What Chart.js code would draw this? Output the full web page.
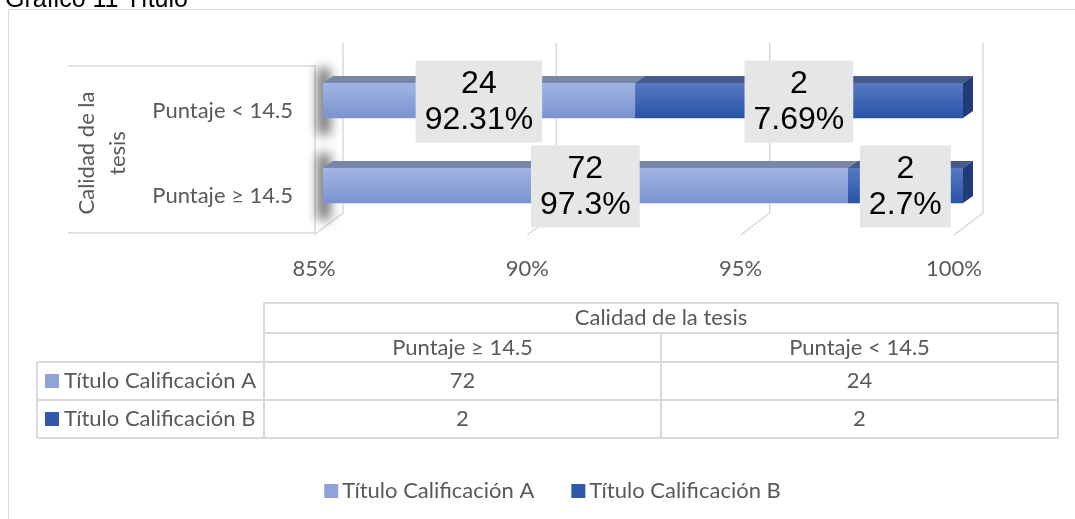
<!DOCTYPE html>
<html><head><meta charset="utf-8">
<script src="https://cdn.jsdelivr.net/npm/chart.js@4.4.1/dist/chart.umd.min.js"></script>
<style>html,body{margin:0;padding:0;background:#fff;overflow:hidden}canvas{display:block}</style>
</head><body>
<canvas id="c" width="1075" height="519"></canvas>
<script>
// ---- data ----
const categories = ['Puntaje ≥ 14.5', 'Puntaje < 14.5'];
const seriesNames = ['Título Calificación A', 'Título Calificación B'];
const countsA = [72, 24];
const countsB = [2, 2];
const xTicks = [85, 90, 95, 100];
const groupTitle = 'Calidad de la tesis';
const chartTitle = 'Gráfico 11 Título';

const totals = categories.map((_, i) => countsA[i] + countsB[i]);
const pctA = countsA.map((v, i) => v / totals[i] * 100);
const pctB = countsB.map((v, i) => v / totals[i] * 100);
const counts = [countsA, countsB];

// ---- styles ----
const FONT = 'Lato, "Open Sans", sans-serif';
const FS = 22;
const GRAY = '#595959';
const LINE = '#d9d9d9';
const DX = 10, DY = 7;
const STY = [
  {top: '#a1b4e4', bot: '#7b93cf', lid: '#7886aa', cap: '#5a6a96', sq: '#8fa3d9'},
  {top: '#5579c2', bot: '#2b54a9', lid: '#45598b', cap: '#213b78', sq: '#3158ab'}
];
const fmtPct = p => (Math.round(p * 100) / 100) + '%';

function grad(ctx, s) {
  const ch = ctx.chart, ys = ch.scales && ch.scales.y;
  if (!ys || ctx.dataIndex === undefined || !ch.chartArea) return s.bot;
  const yc = ys.getPixelForValue(ctx.dataIndex);
  const g = ch.ctx.createLinearGradient(0, yc - 17, 0, yc + 17);
  g.addColorStop(0, s.top); g.addColorStop(1, s.bot);
  return g;
}

const deco = {
  id: 'deco',
  beforeDraw(chart) {
    const c = chart.ctx;
    c.save();
    c.fillStyle = '#fff'; c.fillRect(0, 0, chart.width, chart.height);
    c.strokeStyle = LINE; c.lineWidth = 1;
    c.beginPath(); c.moveTo(8.5, 540); c.lineTo(8.5, 9.5); c.lineTo(1100, 9.5); c.stroke();
    c.fillStyle = '#000'; c.font = '25px "Liberation Sans", Arial'; c.textBaseline = 'alphabetic';
    c.fillText(chartTitle, 5, 7);
    c.restore();
  },
  beforeDatasetsDraw(chart) {
    const c = chart.ctx, xs = chart.scales.x, ys = chart.scales.y, a = chart.chartArea;
    c.save();
    c.strokeStyle = LINE; c.lineWidth = 1.5;
    xTicks.forEach(v => {
      const px = xs.getPixelForValue(v);
      c.beginPath();
      c.moveTo(px + 20, a.top - 15); c.lineTo(px + 20, a.bottom - 15); c.lineTo(px - 9, a.bottom + 7);
      c.stroke();
    });
    // category axis box
    const bx = a.left - 8;
    c.beginPath();
    c.moveTo(68, a.top + 8); c.lineTo(bx, a.top + 8); c.lineTo(bx, a.bottom + 5); c.lineTo(68, a.bottom + 5);
    c.stroke();
    // group title rotated
    c.fillStyle = GRAY; c.font = FS + 'px ' + FONT; c.textAlign = 'center'; c.textBaseline = 'middle';
    c.translate(102, (a.top + a.bottom) / 2 + 10);
    c.rotate(-Math.PI / 2);
    c.fillText('Calidad de la', 0, -15);
    c.fillText('tesis', 0, 16);
    c.setTransform(1, 0, 0, 1, 0, 0);
    // soft dark shadows at bar starts
    c.filter = 'blur(6px)';
    c.fillStyle = 'rgba(0,0,0,0.6)';
    categories.forEach((_, i) => {
      const yc = ys.getPixelForValue(i);
      c.fillRect(a.left - 5, yc - 32, 12, 66);
    });
    c.filter = 'none';
    c.restore();
  },
  afterDatasetsDraw(chart) {
    const c = chart.ctx, a = chart.chartArea;
    const segs = [];
    chart.data.datasets.forEach((ds, di) => {
      const meta = chart.getDatasetMeta(di);
      meta.data.forEach((bar, i) => {
        const p = bar.getProps(['x', 'base', 'y', 'height'], true);
        const x0 = Math.max(Math.min(p.x, p.base), a.left);
        const x1 = Math.min(Math.max(p.x, p.base), a.right);
        segs.push({di, i, x0, x1, top: p.y - p.height / 2, bot: p.y + p.height / 2, y: p.y});
      });
    });
    c.save();
    segs.forEach(s => {
      const st = STY[s.di];
      c.fillStyle = st.lid;
      c.beginPath();
      c.moveTo(s.x0, s.top); c.lineTo(s.x0 + DX, s.top - DY); c.lineTo(s.x1 + DX, s.top - DY); c.lineTo(s.x1, s.top);
      c.closePath(); c.fill();
      if (s.di === chart.data.datasets.length - 1) {
        c.fillStyle = st.cap;
        c.beginPath();
        c.moveTo(s.x1, s.top); c.lineTo(s.x1 + DX, s.top - DY); c.lineTo(s.x1 + DX, s.bot - DY); c.lineTo(s.x1, s.bot);
        c.closePath(); c.fill();
      }
    });
    // data labels
    c.font = '32px "Liberation Sans", Arial';
    c.textAlign = 'center'; c.textBaseline = 'middle';
    segs.forEach(s => {
      const ds = chart.data.datasets[s.di];
      const l1 = String(counts[s.di][s.i]);
      const l2 = fmtPct(ds.data[s.i]);
      const w = Math.max(c.measureText(l1).width, c.measureText(l2).width) + 18;
      const h = 82;
      const xc = (s.x0 + s.x1) / 2, yc = s.y + 1;
      c.fillStyle = '#e6e6e6';
      c.fillRect(xc - w / 2, yc - h / 2, w, h);
      c.fillStyle = '#000';
      c.fillText(l1, xc, yc - 17);
      c.fillText(l2, xc, yc + 19);
    });
    c.restore();
  },
  afterDraw(chart) {
    const c = chart.ctx;
    c.save();
    c.strokeStyle = LINE; c.lineWidth = 2;
    const L = 37, C0 = 264, C1 = 661, R = 1058;
    const rows = [303, 333, 362, 400, 438];
    const ln = (x0, y0, x1, y1) => { c.beginPath(); c.moveTo(x0, y0); c.lineTo(x1, y1); c.stroke(); };
    ln(C0, rows[0], R, rows[0]);
    ln(C0, rows[1], R, rows[1]);
    ln(L, rows[2], R, rows[2]);
    ln(L, rows[3], R, rows[3]);
    ln(L, rows[4], R, rows[4]);
    ln(L, rows[2], L, rows[4]);
    ln(C0, rows[0], C0, rows[4]);
    ln(R, rows[0], R, rows[4]);
    ln(C1, rows[1], C1, rows[4]);
    c.fillStyle = GRAY; c.font = FS + 'px ' + FONT; c.textBaseline = 'middle'; c.textAlign = 'center';
    const mid = (r) => (rows[r] + rows[r + 1]) / 2;
    c.fillText(groupTitle, (C0 + R) / 2, mid(0));
    c.fillText(categories[0], (C0 + C1) / 2, mid(1));
    c.fillText(categories[1], (C1 + R) / 2, mid(1));
    for (let k = 0; k < 2; k++) {
      c.fillStyle = GRAY; c.textAlign = 'center';
      c.fillText(String(counts[k][0]), (C0 + C1) / 2, mid(2 + k));
      c.fillText(String(counts[k][1]), (C1 + R) / 2, mid(2 + k));
      c.fillStyle = STY[k].sq;
      c.fillRect(45, mid(2 + k) - 7, 14, 14);
      c.fillStyle = GRAY; c.textAlign = 'left';
      c.fillText(seriesNames[k], 64, mid(2 + k));
    }
    // legend
    const ws = seriesNames.map(n => 14 + 4 + c.measureText(n).width);
    const gap = 37;
    let x = 552.5 - (ws[0] + gap + ws[1]) / 2;
    const ly = 491;
    seriesNames.forEach((n, k) => {
      c.fillStyle = STY[k].sq; c.fillRect(x, ly - 7, 14, 14);
      c.fillStyle = GRAY; c.textAlign = 'left';
      c.fillText(n, x + 18, ly);
      x += ws[k] + gap;
    });
    c.restore();
  }
};

new Chart(document.getElementById('c'), {
  type: 'bar',
  data: {
    labels: categories,
    datasets: [
      {label: seriesNames[0], data: pctA, backgroundColor: ctx => grad(ctx, STY[0]), barThickness: 35, borderWidth: 0},
      {label: seriesNames[1], data: pctB, backgroundColor: ctx => grad(ctx, STY[1]), barThickness: 35, borderWidth: 0}
    ]
  },
  options: {
    indexAxis: 'y',
    responsive: false,
    animation: false,
    devicePixelRatio: 1,
    layout: {padding: {left: 0, right: 112, top: 58, bottom: 0}},
    plugins: {legend: {display: false}, tooltip: {enabled: false}},
    scales: {
      x: {
        stacked: true, min: 85, max: 100,
        grid: {display: false, drawTicks: false}, border: {display: false},
        afterBuildTicks: s => { s.ticks = xTicks.map(v => ({value: v})); },
        ticks: {callback: v => v + '%', color: GRAY, font: {family: FONT, size: FS}, padding: 28, labelOffset: -9, maxRotation: 0},
        afterFit: s => { s.height = 519 - 228; }
      },
      y: {
        stacked: true, reverse: true,
        grid: {display: false, drawTicks: false}, border: {display: false},
        ticks: {color: GRAY, font: {family: FONT, size: FS}, padding: 30, labelOffset: 10},
        afterFit: s => { s.width = 323; }
      }
    }
  },
  plugins: [deco]
});
</script>
</body></html>
